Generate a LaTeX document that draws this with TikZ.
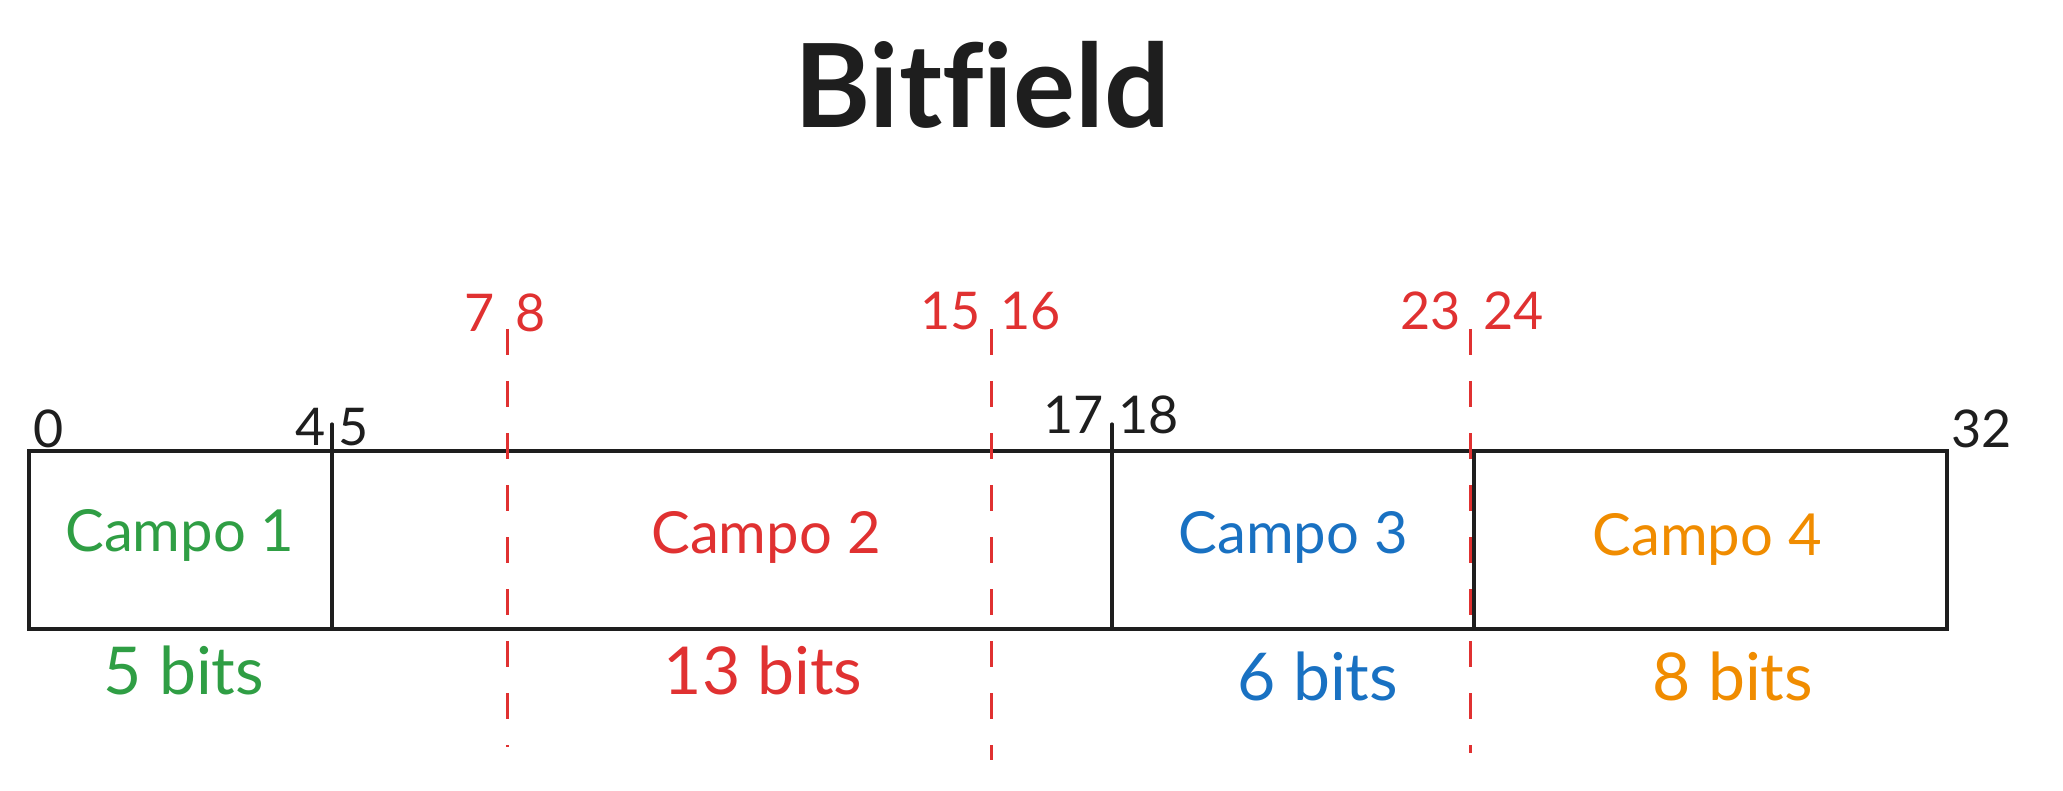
\documentclass[tikz,border=0pt]{standalone}
\usepackage{fontspec}
\setmainfont{Lato}[Ligatures=CommonOff]
\definecolor{inkblack}{HTML}{1E1E1E}
\definecolor{fieldgreen}{HTML}{2F9E44}
\definecolor{fieldred}{HTML}{E03131}
\definecolor{fieldblue}{HTML}{1971C2}
\definecolor{fieldorange}{HTML}{F08C00}
\begin{document}
\begin{tikzpicture}[x=0.5pt, y=-0.5pt, every node/.style={inner sep=0pt, text=inkblack},
    boxline/.style={inkblack, line width=1.6pt, line cap=round},
    cutline/.style={fieldred, line width=1.5pt, dash pattern=on 13pt off 13pt},
    campo/.style={font=\fontsize{29}{31}\selectfont},
    bits/.style={font=\fontsize{33}{35}\selectfont},
    num/.style={font=\fontsize{26}{28}\selectfont}]
    \useasboundingbox (0,0) rectangle (2063,791);
    \node[anchor=base, font=\fontsize{58}{62}\bfseries\selectfont] (title) at (982,128) {Bitfield};
    % the 32-bit word
    \draw[boxline] (29,451) rectangle (1947,629);
    \draw[boxline] (332,424) -- (332,629);
    \draw[boxline] (1112,424) -- (1112,629);
    \draw[boxline] (1474,451) -- (1474,629);
    % byte boundaries
    \foreach \xa/\ya/\yb in {507/329/747, 991/329/760, 1470/329/753}
        \draw[cutline] (\xa,\ya) -- (\xa,\yb);
    \node[num, anchor=base west] (b0) at (33,447) {0};
    \node[num, anchor=base east] (b4) at (326,445) {4};
    \node[num, anchor=base west] (b5) at (338,445) {5};
    \node[num, anchor=base east] (b17) at (1104,434) {17};
    \node[num, anchor=base west] (b18) at (1118,434) {18};
    \node[num, anchor=base west] (b32) at (1951,447) {32};
    \node[num, anchor=base east, text=fieldred] (b7) at (495,332) {7};
    \node[num, anchor=base west, text=fieldred] (b8) at (515,332) {8};
    \node[num, anchor=base east, text=fieldred] (b15) at (981,330) {15};
    \node[num, anchor=base west, text=fieldred] (b16) at (1000,330) {16};
    \node[num, anchor=base east, text=fieldred] (b23) at (1461,330) {23};
    \node[num, anchor=base west, text=fieldred] (b24) at (1483,330) {24};
    \node[campo, text=fieldgreen] (campo1) at (180,535) {Campo 1};
    \node[campo, text=fieldred] (campo2) at (766,537) {Campo 2};
    \node[campo, text=fieldblue] (campo3) at (1293,537) {Campo 3};
    \node[campo, text=fieldorange] (campo4) at (1707,539) {Campo 4};
    \node[bits, text=fieldgreen] (bits1) at (184,670) {5 bits};
    \node[bits, text=fieldred] (bits2) at (763,670) {13 bits};
    \node[bits, text=fieldblue] (bits3) at (1318,676) {6 bits};
    \node[bits, text=fieldorange] (bits4) at (1733,676) {8 bits};
\end{tikzpicture}
\end{document}
